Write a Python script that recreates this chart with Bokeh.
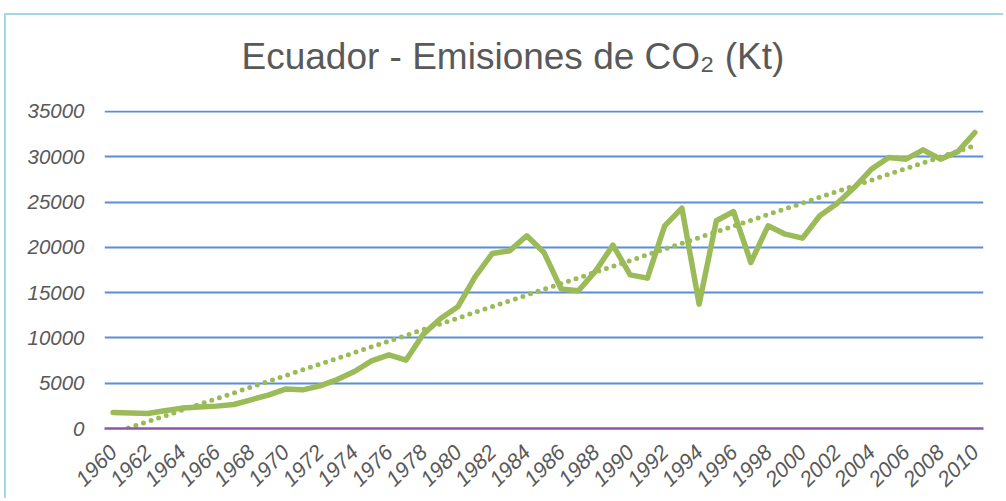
import math
import numpy as np
from bokeh.plotting import figure
from bokeh.models import FixedTicker, Range1d, Title
from bokeh.embed import file_html
from bokeh.resources import INLINE

# ---- data ----
years = list(range(1960, 2011))
emissions = [1770, 1700, 1650, 1950, 2250, 2360, 2470, 2650, 3170, 3690,
             4350, 4270, 4700, 5400, 6290, 7470, 8130, 7550, 10420, 12140,
             13430, 16740, 19320, 19610, 21270, 19430, 15390, 15200, 17400, 20240,
             16960, 16600, 22370, 24330, 13730, 22930, 23950, 18320, 22370, 21450,
             21010, 23480, 24830, 26600, 28630, 29910, 29730, 30760, 29730, 30540,
             32670]
x_tick_years = list(range(1960, 2011, 2))
y_ticks = [0, 5000, 10000, 15000, 20000, 25000, 30000, 35000]

# linear trend line (least squares, like the spreadsheet's linear trendline)
slope, intercept = np.polyfit(years, emissions, 1)
trend = [slope * y + intercept for y in years]

GREEN = "#9BBB59"
GRID = "#5B8ED6"
AXIS = "#8A56B0"
TEXT = "#595959"
BORDER = "#A3D6E6"
FONT = "Liberation Sans"

W, H = 999, 485
ML, MR, MT, MB = 98, 22, 95, 72
p = figure(width=W, height=H, output_backend="svg", toolbar_location=None,
           x_range=Range1d(1959.5, 2010.5), y_range=Range1d(0, 35100),
           min_border_left=ML, min_border_right=MR, min_border_top=MT,
           min_border_bottom=MB)
p.styles = {"position": "relative", "left": "4px", "top": "13px",
            "border-left": f"2px solid {BORDER}", "border-top": f"2px solid {BORDER}"}
p.title = None

# spacer between plot area and title, then the title itself
p.add_layout(Title(text=" ", text_font=FONT, text_font_size="10px", standoff=21),
             "above")
p.add_layout(Title(text="Ecuador - Emisiones de CO\u2082 (Kt)", text_font=FONT,
                   text_font_size="37px", text_font_style="normal",
                   text_color=TEXT, align="left", offset=137, standoff=0),
             "above")

p.outline_line_color = None
p.background_fill_color = "white"
p.border_fill_color = "white"

p.xgrid.visible = False
p.ygrid.ticker = FixedTicker(ticks=y_ticks[1:])
p.ygrid.grid_line_color = GRID
p.ygrid.grid_line_width = 1.8

p.yaxis.ticker = FixedTicker(ticks=y_ticks)
p.yaxis.axis_line_color = None
p.yaxis.major_tick_line_color = None
p.yaxis.minor_tick_line_color = None
p.yaxis.major_label_standoff = 14
p.yaxis.major_label_text_font = FONT
p.yaxis.major_label_text_font_style = "italic"
p.yaxis.major_label_text_font_size = "20.5px"
p.yaxis.major_label_text_color = TEXT

p.xaxis.ticker = FixedTicker(ticks=x_tick_years)
p.xaxis.axis_line_color = AXIS
p.xaxis.axis_line_width = 2.5
p.xaxis.major_tick_line_color = None
p.xaxis.minor_tick_line_color = None
p.xaxis.major_label_orientation = math.pi / 4
p.xaxis.major_label_standoff = 14
p.xaxis.major_label_text_font = FONT
p.xaxis.major_label_text_font_style = "italic"
p.xaxis.major_label_text_font_size = "21.5px"
p.xaxis.major_label_text_color = TEXT

p.line(years, emissions, line_color=GREEN, line_width=5.5, line_join="round",
       line_cap="round")
p.line(years, trend, line_color=GREEN, line_width=5, line_dash="0 8",
       line_cap="round")

open("out.html", "w").write(file_html(p, INLINE))
